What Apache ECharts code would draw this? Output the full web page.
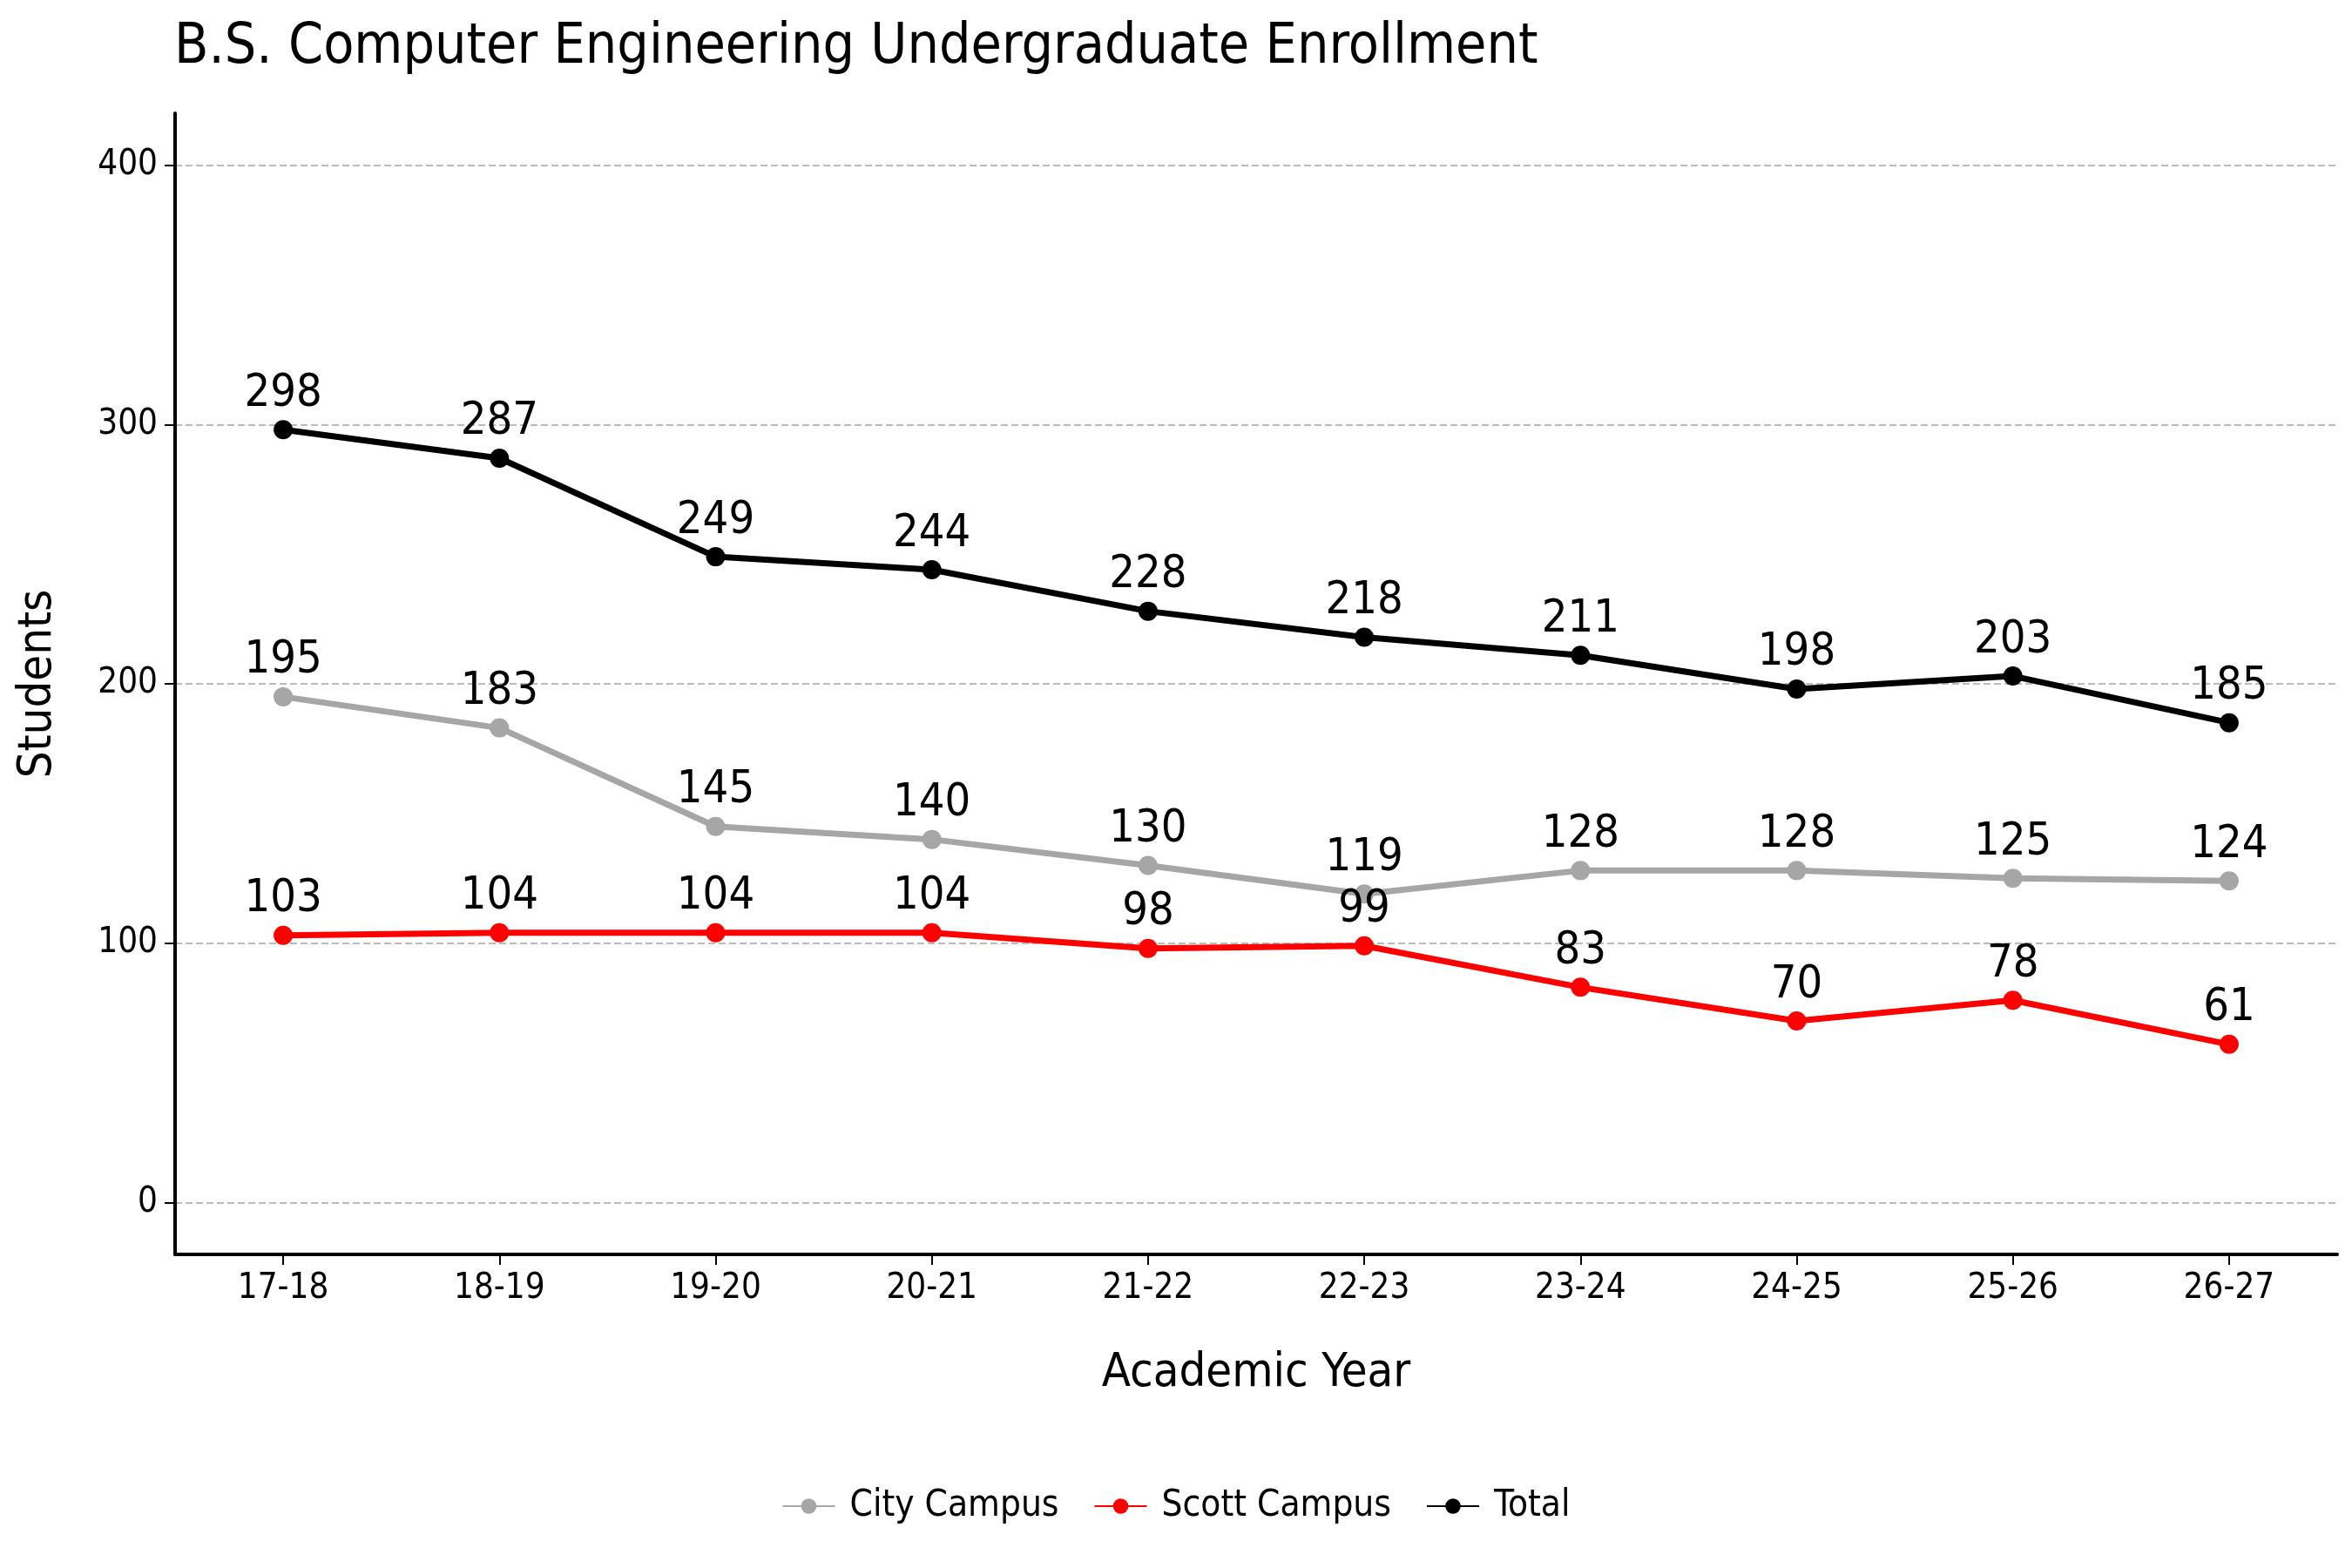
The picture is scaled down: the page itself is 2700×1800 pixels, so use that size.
<!DOCTYPE html>
<html><head><meta charset="utf-8">
<script src="https://cdn.jsdelivr.net/npm/echarts@6/dist/echarts.min.js"></script>
<style>html,body{margin:0;background:#fff}#c{width:2700px;height:1800px}</style>
</head><body><div id="c"></div>
<script>
const years = ['17-18','18-19','19-20','20-21','21-22','22-23','23-24','24-25','25-26','26-27'];
const city = [195,183,145,140,130,119,128,128,125,124];
const scott = [103,104,104,104,98,99,83,70,78,61];
const total = [298,287,249,244,228,218,211,198,203,185];
const yTicks = [0,100,200,300,400];
const F = "'Liberation Sans Narrow','DejaVu Sans Condensed',sans-serif";
function s(name, data, color){
  return {name, type:'line', data, symbol:'circle', symbolSize:22,
    lineStyle:{width:7,color}, itemStyle:{color},
    label:{show:true, position:'top', distance:4, fontFamily:F, fontSize:52, color:'#000'}};
}
const chart = echarts.init(document.getElementById('c'));
chart.setOption({
  animation:false,
  title:{text:'B.S. Computer Engineering Undergraduate Enrollment', left:195, top:18,
    textStyle:{fontFamily:F, fontSize:64, fontWeight:'normal', color:'#000'}},
  legend:{bottom:45, left:'center', itemWidth:60, itemHeight:22, itemGap:40,
    textStyle:{fontFamily:F, fontSize:42, color:'#000', padding:[0,0,0,12]}},
  grid:{left:201, right:17, top:130, bottom:360},
  xAxis:{type:'category', data:years, boundaryGap:true, name:'Academic Year', nameLocation:'middle', nameGap:110,
    nameTextStyle:{fontFamily:F, fontSize:54, color:'#000'},
    axisLine:{onZero:false, lineStyle:{color:'#000', width:4}},
    axisTick:{show:true, alignWithLabel:true, length:12, lineStyle:{color:'#000',width:2}},
    axisLabel:{fontFamily:F, fontSize:40, color:'#000', margin:20}},
  yAxis:{type:'value', min:-20, max:420, name:'Students', nameLocation:'middle', nameGap:130,
    nameTextStyle:{fontFamily:F, fontSize:54, color:'#000'},
    axisLine:{show:true, lineStyle:{color:'#000', width:4}},
    axisLabel:{fontFamily:F, fontSize:40, color:'#000', margin:20, customValues:yTicks},
    axisTick:{show:true, customValues:yTicks, length:12, lineStyle:{color:'#000',width:2}},
    splitLine:{show:true, lineStyle:{type:'dashed', color:'#bbb', width:2}}
  },
  series:[
    s('City Campus', city, '#a6a6a6'),
    s('Scott Campus', scott, '#ff0000'),
    s('Total', total, '#000000')
  ]
});
</script></body></html>
